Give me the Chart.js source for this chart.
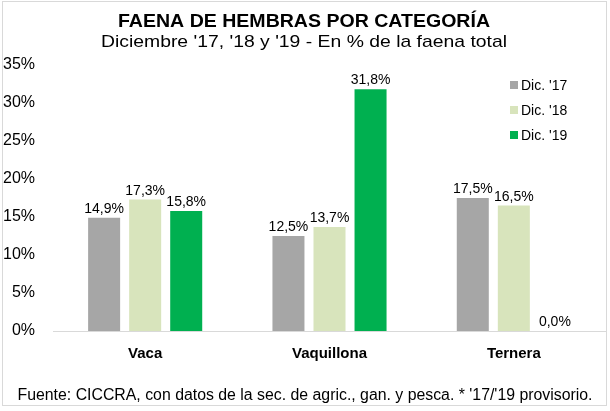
<!DOCTYPE html>
<html>
<head>
<meta charset="utf-8">
<script src="https://cdn.jsdelivr.net/npm/chart.js@4/dist/chart.umd.min.js"></script>
<style>
html,body{margin:0;padding:0;background:#fff;}
#wrap{width:610px;height:411px;position:relative;}
</style>
</head>
<body>
<div id="wrap"><canvas id="c" width="610" height="411"></canvas></div>
<script>
const titleText = 'FAENA DE HEMBRAS POR CATEGORÍA';
const subtitleText = "Diciembre '17, '18 y '19 - En % de la faena total";
const footerText = "Fuente: CICCRA, con datos de la sec. de agric., gan. y pesca. * '17/'19 provisorio.";
const categories = ['Vaca', 'Vaquillona', 'Ternera'];
const seriesLabels = ["Dic. '17", "Dic. '18", "Dic. '19"];
const dic17 = [14.9, 12.5, 17.5];
const dic18 = [17.3, 13.7, 16.5];
const dic19 = [15.8, 31.8, 0.0];
const yTicks = [0, 5, 10, 15, 20, 25, 30, 35];
const colors = ['#A6A6A6', '#D8E4BC', '#00B050'];

const fmt = v => v.toFixed(1).replace('.', ',') + '%';

function fitText(ctx, text, x, y, width) {
  const w = ctx.measureText(text).width;
  ctx.save();
  ctx.translate(x, y);
  ctx.scale(width / w, 1);
  ctx.fillText(text, 0, 0);
  ctx.restore();
}

const decor = {
  id: 'decor',
  afterDatasetsDraw(chart) {
    const ctx = chart.ctx;
    ctx.save();
    ctx.font = '14px "Liberation Sans", Arial, sans-serif';
    ctx.fillStyle = '#000';
    ctx.textAlign = 'center';
    ctx.textBaseline = 'alphabetic';
    chart.data.datasets.forEach((ds, i) => {
      const meta = chart.getDatasetMeta(i);
      meta.data.forEach((bar, j) => {
        ctx.fillText(fmt(ds.data[j]), bar.x, bar.y - 5);
      });
    });
    ctx.textAlign = 'left';
    ctx.textBaseline = 'middle';
    const lx = 510, ly = 85, step = 25;
    chart.data.datasets.forEach((ds, i) => {
      ctx.fillStyle = ds.backgroundColor;
      ctx.fillRect(lx, ly + i * step - 4, 8, 8);
      ctx.fillStyle = '#000';
      ctx.fillText(ds.label, lx + 11, ly + i * step + 1);
    });
    ctx.restore();
  },
  afterDraw(chart) {
    const ctx = chart.ctx;
    ctx.save();
    ctx.fillStyle = '#000';
    ctx.textAlign = 'center';
    ctx.textBaseline = 'alphabetic';
    ctx.font = 'bold 18px "Liberation Sans", Arial, sans-serif';
    fitText(ctx, titleText, 304, 27, 372);
    ctx.font = '17px "Liberation Sans", Arial, sans-serif';
    fitText(ctx, subtitleText, 304, 47, 406);
    ctx.font = '16px "Liberation Sans", Arial, sans-serif';
    fitText(ctx, footerText, 305, 400, 575);
    ctx.strokeStyle = '#D9D9D9';
    ctx.lineWidth = 1;
    ctx.strokeRect(2.5, 1.5, 604, 404);
    ctx.restore();
  }
};

new Chart(document.getElementById('c'), {
  type: 'bar',
  data: {
    labels: categories,
    datasets: [
      { label: seriesLabels[0], data: dic17, backgroundColor: colors[0] },
      { label: seriesLabels[1], data: dic18, backgroundColor: colors[1] },
      { label: seriesLabels[2], data: dic19, backgroundColor: colors[2] }
    ]
  },
  options: {
    responsive: false,
    animation: false,
    devicePixelRatio: 1,
    categoryPercentage: 0.668,
    barPercentage: 0.78,
    layout: { padding: { top: 65, right: 4, bottom: 0, left: 0 } },
    plugins: { legend: { display: false }, title: { display: false }, tooltip: { enabled: false } },
    scales: {
      x: {
        grid: { display: false, drawTicks: false, tickLength: 0 },
        border: { display: true, color: '#D9D9D9', width: 1 },
        ticks: { color: '#000', padding: 14, font: { family: '"Liberation Sans", Arial, sans-serif', size: 15, weight: 'bold' } },
        afterFit(s) { s.height = 80; }
      },
      y: {
        min: 0, max: 35,
        grid: { display: false, drawTicks: false, tickLength: 0 },
        border: { display: false },
        afterBuildTicks(s) { s.ticks = yTicks.map(v => ({ value: v })); },
        ticks: {
          color: '#000', padding: 18,
          font: { family: '"Liberation Sans", Arial, sans-serif', size: 16 },
          callback: v => v + '%'
        },
        afterFit(s) { s.width = 53; }
      }
    }
  },
  plugins: [decor]
});
</script>
</body>
</html>
